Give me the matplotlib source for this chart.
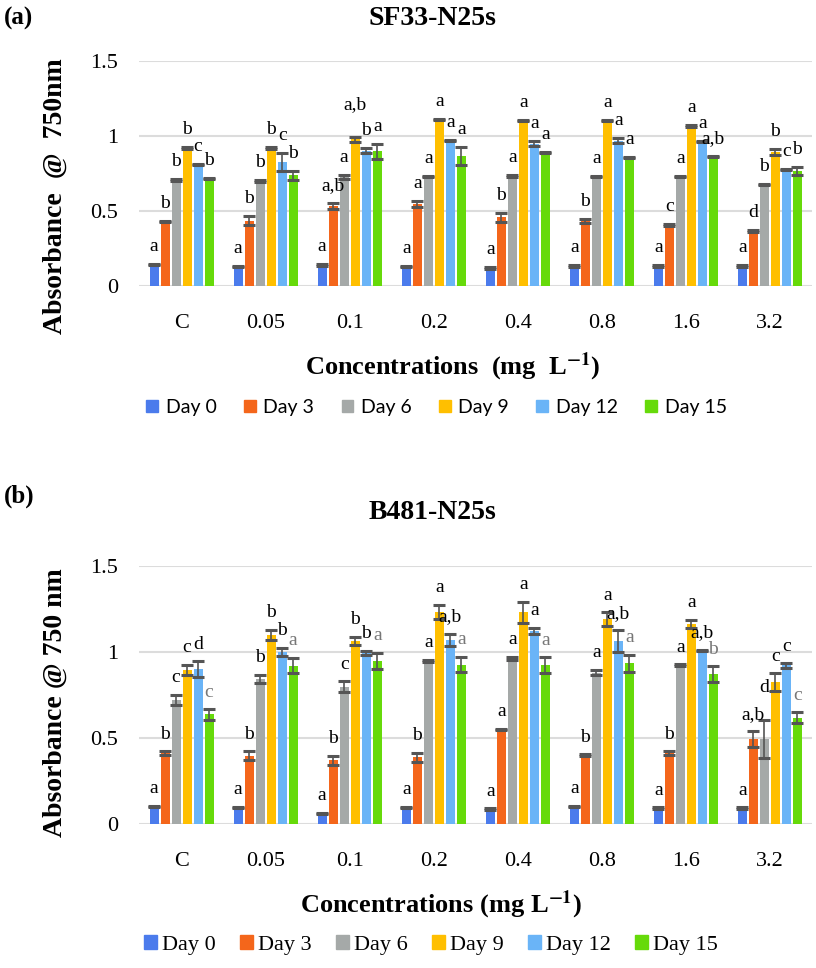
import numpy as np
import matplotlib
matplotlib.use("Agg")
import matplotlib.pyplot as plt
from matplotlib.patches import Patch

plt.rcParams['font.family'] = ['Liberation Serif', 'DejaVu Serif']
plt.rcParams['mathtext.fontset'] = 'stix'

concentrations = ['C', '0.05', '0.1', '0.2', '0.4', '0.8', '1.6', '3.2']
days = ['Day 0', 'Day 3', 'Day 6', 'Day 9', 'Day 12', 'Day 15']
colors = ['#4B7BEC', '#F4661B', '#A5A9A8', '#FFBF00', '#6AB4F7', '#66DA0A']

# SF33-N25s, rows = days, columns = concentrations
sf_mean = [
    [0.145, 0.129, 0.138, 0.129, 0.120, 0.133, 0.133, 0.133],
    [0.430, 0.435, 0.533, 0.547, 0.460, 0.431, 0.407, 0.367],
    [0.707, 0.700, 0.727, 0.729, 0.733, 0.729, 0.733, 0.678],
    [0.920, 0.920, 0.978, 1.111, 1.105, 1.105, 1.067, 0.893],
    [0.813, 0.830, 0.903, 0.969, 0.950, 0.970, 0.962, 0.778],
    [0.718, 0.740, 0.900, 0.870, 0.889, 0.858, 0.862, 0.767],
]
sf_err = [
    [0.005, 0.005, 0.006, 0.005, 0.005, 0.005, 0.005, 0.005],
    [0.005, 0.030, 0.018, 0.017, 0.030, 0.013, 0.004, 0.005],
    [0.005, 0.004, 0.015, 0.005, 0.005, 0.005, 0.004, 0.005],
    [0.004, 0.004, 0.018, 0.004, 0.004, 0.004, 0.004, 0.018],
    [0.004, 0.060, 0.015, 0.004, 0.018, 0.015, 0.004, 0.004],
    [0.004, 0.030, 0.050, 0.060, 0.005, 0.005, 0.004, 0.025],
]
sf_letters = [
    ['a', 'a', 'a', 'a', 'a', 'a', 'a', 'a'],
    ['b', 'b', 'a,b', 'a', 'b', 'b', 'c', 'd'],
    ['b', 'b', 'a', 'a', 'a', 'a', 'a', 'b'],
    ['b', 'b', 'a,b', 'a', 'a', 'a', 'a', 'b'],
    ['c', 'c', 'b', 'a', 'a', 'a', 'a', 'c'],
    ['b', 'b', 'a', 'a', 'a', 'a', 'a,b', 'b'],
]

# B481-N25s
b_mean = [
    [0.101, 0.095, 0.061, 0.095, 0.087, 0.101, 0.093, 0.093],
    [0.413, 0.397, 0.370, 0.387, 0.550, 0.400, 0.413, 0.494],
    [0.720, 0.843, 0.797, 0.948, 0.963, 0.880, 0.924, 0.495],
    [0.895, 1.100, 1.064, 1.233, 1.230, 1.190, 1.163, 0.826],
    [0.900, 1.000, 0.994, 1.070, 1.122, 1.062, 1.010, 0.922],
    [0.637, 0.920, 0.948, 0.926, 0.924, 0.935, 0.871, 0.617],
]
b_err = [
    [0.004, 0.004, 0.004, 0.004, 0.004, 0.004, 0.004, 0.004],
    [0.010, 0.025, 0.025, 0.028, 0.005, 0.005, 0.010, 0.045],
    [0.030, 0.025, 0.032, 0.005, 0.010, 0.015, 0.004, 0.110],
    [0.030, 0.030, 0.025, 0.040, 0.063, 0.040, 0.025, 0.050],
    [0.045, 0.025, 0.012, 0.035, 0.020, 0.063, 0.004, 0.013],
    [0.030, 0.045, 0.048, 0.045, 0.045, 0.050, 0.045, 0.032],
]
b_letters = [
    ['a', 'a', 'a', 'a', 'a', 'a', 'a', 'a'],
    ['b', 'b', 'b', 'b', 'a', 'b', 'b', 'a,b'],
    ['c', 'b', 'c', 'a', 'a', 'a', 'a', 'd'],
    ['c', 'b', 'b', 'a', 'a', 'a', 'a', 'c'],
    ['d', 'b', 'b', 'a,b', 'a', 'a,b', 'a,b', 'c'],
    ['c', 'a', 'a', 'a', 'a', 'a', 'b', 'c'],
]


def draw_panel(ax, means, errs, letters, letter_col_last, pad, lift):
    x = np.arange(len(concentrations))
    slot = 0.131
    width = 0.107
    for i in range(len(days)):
        xi = x + (i - 2.5) * slot
        m = np.array(means[i])
        e = np.array(errs[i])
        ax.bar(xi, m, width, color=colors[i], zorder=2)
        ax.errorbar(xi, m, yerr=e, fmt='none', ecolor='#555555',
                    elinewidth=1.2, capsize=4, capthick=2.2, zorder=3)
        for j in range(len(x)):
            col = letter_col_last if i == len(days) - 1 else 'black'
            # a few letters sit higher in the original to clear their neighbours
            extra = lift.get((i, j), 0)
            ax.text(xi[j], m[j] + e[j] + pad + extra, letters[i][j], ha='center',
                    va='bottom', fontsize=14, color=col, zorder=4)
    ax.set_xlim(-0.51, 7.5)
    ax.set_ylim(0, 1.5)
    ax.set_yticks([0, 0.5, 1, 1.5])
    ax.set_yticklabels(['0', '0.5', '1', '1.5'])
    ax.set_xticks(x)
    ax.set_xticklabels(concentrations)
    ax.grid(axis='y', color='#dcdcdc', linewidth=1.5, zorder=0)
    ax.set_axisbelow(True)
    for s in ax.spines.values():
        s.set_visible(False)
    ax.tick_params(axis='both', length=0, labelsize=16)
    ax.tick_params(axis='x', pad=20)
    ax.tick_params(axis='y', pad=15)


fig = plt.figure(figsize=(8.16, 9.68), dpi=100)

ax1 = fig.add_axes([0.170, 0.7045, 0.825, 0.2324])
draw_panel(ax1, sf_mean, sf_err, sf_letters, 'black', 0.06, {(3, 2): 0.10})
ax1.set_ylabel('Absorbance  @  750nm', fontsize=20, fontweight='bold')
ax1.yaxis.set_label_coords(-0.105, 0.40)
fig.text(0.555, 0.621, r'Concentrations  (mg  L$^{\mathbf{-1}}$)', ha='center', va='center',
         fontsize=19, fontweight='bold')
fig.text(0.53, 0.981, 'SF33-N25s', ha='center', va='center', fontsize=20, fontweight='bold')
fig.text(0.005, 0.981, '(a)', ha='left', va='center', fontsize=18, fontweight='bold')
handles = [Patch(color=c, label=d) for c, d in zip(colors, days)]
fig.legend(handles=handles, loc='center', bbox_to_anchor=(0.535, 0.579), ncol=6,
           frameon=False, handlelength=0.6, handleheight=0.6, handletextpad=0.4,
           columnspacing=1.4, prop={'family': 'Lato', 'size': 14})

ax2 = fig.add_axes([0.170, 0.1488, 0.825, 0.2665])
draw_panel(ax2, b_mean, b_err, b_letters, '#777777', 0.05, {(2, 7): 0.09})
ax2.set_ylabel('Absorbance @ 750 nm', fontsize=20, fontweight='bold')
ax2.yaxis.set_label_coords(-0.105, 0.47)
fig.text(0.54, 0.065, r'Concentrations (mg L$^{\mathbf{-1}}$)', ha='center', va='center',
         fontsize=19, fontweight='bold')
fig.text(0.53, 0.471, 'B481-N25s', ha='center', va='center', fontsize=20, fontweight='bold')
fig.text(0.005, 0.487, '(b)', ha='left', va='center', fontsize=18, fontweight='bold')
fig.legend(handles=handles, loc='center', bbox_to_anchor=(0.528, 0.024), ncol=6,
           frameon=False, handlelength=0.6, handleheight=0.6, handletextpad=0.2,
           columnspacing=1.1, prop={'family': 'Liberation Serif', 'size': 16})

fig.savefig('out.png', dpi=100)
